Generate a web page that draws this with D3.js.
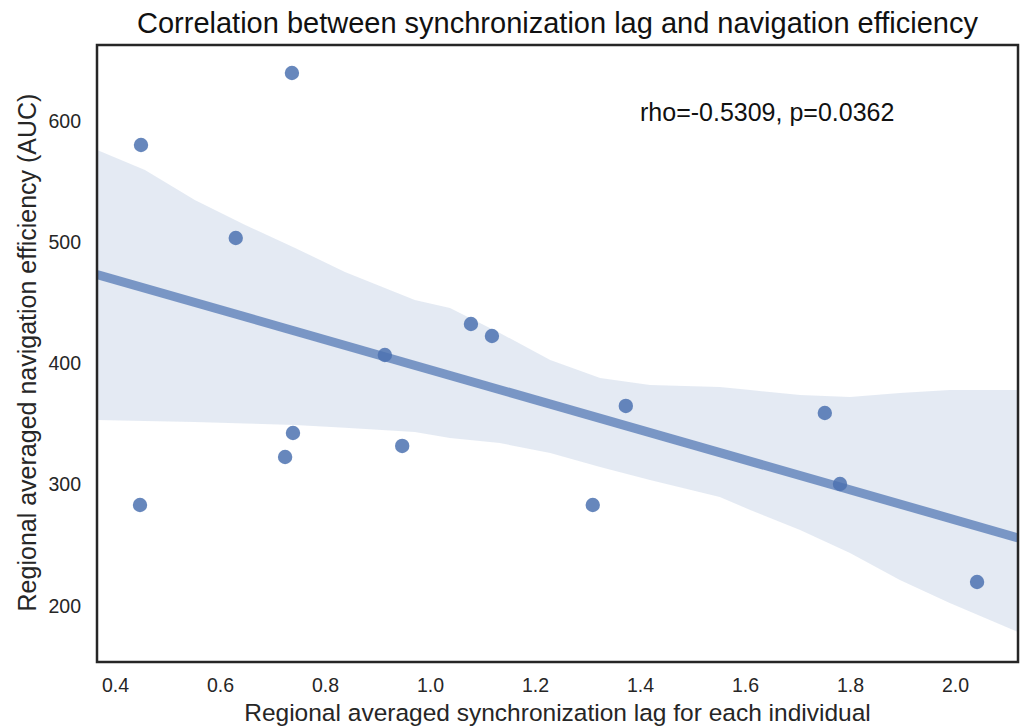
<!DOCTYPE html>
<html><head><meta charset="utf-8">
<script src="https://cdn.jsdelivr.net/npm/d3@7"></script>
<style>body{margin:0;background:#fff;} svg{display:block;}</style>
</head><body>
<svg id="c" width="1024" height="727"></svg>
<script>
const syncLag = [0.4495,0.737,0.630,0.4476,0.724,0.739,0.914,0.947,1.078,1.118,1.310,1.373,1.752,1.781,2.042];
const navAUC  = [580.2,639.6,503.5,283.3,322.9,342.7,407.0,332.0,432.6,422.7,283.3,365.0,359.2,300.6,219.8];
const ciX     = [0.366,0.457,0.552,0.648,0.743,0.838,0.971,1.038,1.133,1.229,1.324,1.419,1.552,1.610,1.705,1.800,1.895,1.990,2.120];
const ciUpper = [576.1,559.6,534.8,514.2,495.3,475.5,452.4,445.8,425.2,402.9,388.0,382.3,380.6,378.1,374.0,372.4,375.7,378.1,378.1];
const ciLower = [353.4,352.6,351.8,350.5,349.3,347.0,343.5,338.6,334.4,326.2,314.7,303.9,289.9,279.2,262.7,243.7,221.5,202.5,178.6];
const xTicks = [0.4,0.6,0.8,1.0,1.2,1.4,1.6,1.8,2.0];
const yTicks = [200,300,400,500,600];
const annotation = "rho=-0.5309, p=0.0362";

const L=97,R=1018,T=45,B=662;
const svg=d3.select("#c");
const x=d3.scaleLinear().domain([0.3657,2.12]).range([L,R]);
const y=d3.scaleLinear().domain([153.8,662.7]).range([B,T]);
const font="'Liberation Sans', Arial, sans-serif";
const ink="#262626", blue="#4c72b0";

svg.append("defs").append("clipPath").attr("id","clip").append("rect").attr("x",L).attr("y",T).attr("width",R-L).attr("height",B-T);
const g=svg.append("g").attr("clip-path","url(#clip)");

// CI band
const band=ciX.map((v,i)=>({x:v,lo:ciLower[i],hi:ciUpper[i]}));
g.append("path").datum(band)
 .attr("d",d3.area().x(d=>x(d.x)).y0(d=>y(d.lo)).y1(d=>y(d.hi)))
 .attr("fill",blue).attr("fill-opacity",0.15);

// OLS fit
const n=syncLag.length, mx=d3.mean(syncLag), my=d3.mean(navAUC);
let sxy=0,sxx=0; for(let i=0;i<n;i++){sxy+=(syncLag[i]-mx)*(navAUC[i]-my);sxx+=(syncLag[i]-mx)**2;}
const slope=sxy/sxx, icpt=my-slope*mx;
const xd=x.domain();
g.append("line").attr("x1",x(xd[0])).attr("x2",x(xd[1]))
 .attr("y1",y(icpt+slope*xd[0])).attr("y2",y(icpt+slope*xd[1]))
 .attr("stroke",blue).attr("stroke-opacity",0.7).attr("stroke-width",9);

// points
g.selectAll("circle").data(syncLag).join("circle")
 .attr("cx",d=>x(d)).attr("cy",(d,i)=>y(navAUC[i])).attr("r",7.2)
 .attr("fill",blue).attr("fill-opacity",0.85);

// axes (labels only)
const xa=svg.append("g").attr("transform",`translate(0,${B})`)
 .call(d3.axisBottom(x).tickValues(xTicks).tickFormat(d3.format(".1f")).tickSize(0).tickPadding(16));
const ya=svg.append("g").attr("transform",`translate(${L},0)`)
 .call(d3.axisLeft(y).tickValues(yTicks).tickSize(0).tickPadding(16));
[xa,ya].forEach(a=>{a.select(".domain").remove();a.selectAll("text").attr("font-family",font).attr("font-size",19.5).attr("fill",ink);});

// frame
svg.append("rect").attr("x",L).attr("y",T).attr("width",R-L).attr("height",B-T)
 .attr("fill","none").attr("stroke",ink).attr("stroke-width",2.5);

// texts
svg.append("text").attr("x",x(1.4)).attr("y",y(600)).attr("font-family",font).attr("font-size",25).attr("fill","#111").text(annotation);
svg.append("text").attr("x",(L+R)/2).attr("y",33).attr("text-anchor","middle").attr("font-family",font).attr("font-size",29).attr("fill","#111")
 .text("Correlation between synchronization lag and navigation efficiency");
svg.append("text").attr("x",(L+R)/2).attr("y",721).attr("text-anchor","middle").attr("font-family",font).attr("font-size",24.5).attr("fill",ink)
 .text("Regional averaged synchronization lag for each individual");
svg.append("text").attr("transform",`translate(36,352.5) rotate(-90)`).attr("text-anchor","middle").attr("font-family",font).attr("font-size",25).attr("fill",ink)
 .text("Regional averaged navigation efficiency (AUC)");
</script>
</body></html>
